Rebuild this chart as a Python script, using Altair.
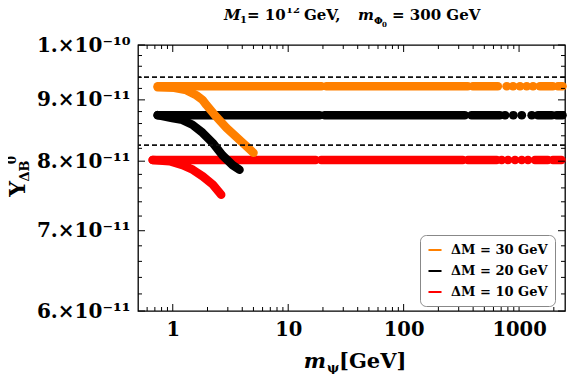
import altair as alt
import pandas as pd

# ---------------- data ----------------
series = ["ΔM = 30 GeV", "ΔM = 20 GeV", "ΔM = 10 GeV"]
colors = ["#FF8000", "#000000", "#FF0000"]
plateau_y = [9.24e-11, 8.74e-11, 8.02e-11]

# plateau pieces (start, end) in m_psi [GeV]
orange_seg_start = [0.74, 21.4, 397, 779, 884, 1016, 1161, 1318, 1512, 2168]
orange_seg_end = [19.4, 360, 655, 785, 890, 1022, 1168, 1326, 1963, 2380]
black_seg_start = [0.74, 20.7, 387, 753, 889, 1052, 1284, 1456, 2113]
black_seg_end = [18.7, 339, 682, 758, 895, 1058, 1292, 1924, 2380]
red_seg_start = [0.67, 19.3, 360, 705, 800, 920, 1052, 1191, 1371, 1963]
red_seg_end = [17.3, 326, 641, 710, 805, 926, 1058, 1198, 1778, 2330]

# descending branches
orange_branch_x = [0.74, 1.03, 1.31, 1.60, 1.81, 1.96, 2.39, 2.92, 4.02, 5.01]
orange_branch_y = [9.22e-11, 9.21e-11, 9.17e-11, 9.08e-11, 9.00e-11, 8.91e-11,
                   8.71e-11, 8.53e-11, 8.29e-11, 8.13e-11]
black_branch_x = [0.74, 0.99, 1.21, 1.48, 1.81, 2.21, 2.70, 3.30, 3.79]
black_branch_y = [8.74e-11, 8.69e-11, 8.66e-11, 8.58e-11, 8.45e-11, 8.29e-11,
                  8.09e-11, 7.94e-11, 7.87e-11]
red_branch_x = [0.67, 0.94, 1.22, 1.49, 1.82, 2.22, 2.63]
red_branch_y = [8.02e-11, 8.00e-11, 7.94e-11, 7.87e-11, 7.77e-11, 7.65e-11, 7.50e-11]

bounds_y = [9.40e-11, 8.25e-11]

x_major = [1, 10, 100, 1000]
x_minor = [0.6, 0.7, 0.8, 0.9, 2, 3, 4, 5, 6, 7, 8, 9, 20, 30, 40, 50, 60, 70, 80, 90,
           200, 300, 400, 500, 600, 700, 800, 900, 2000]
y_major = [6e-11, 7e-11, 8e-11, 9e-11, 1e-10]
y_minor = [6.2e-11, 6.4e-11, 6.6e-11, 6.8e-11, 7.2e-11, 7.4e-11, 7.6e-11, 7.8e-11,
           8.2e-11, 8.4e-11, 8.6e-11, 8.8e-11, 9.2e-11, 9.4e-11, 9.6e-11, 9.8e-11]

# ---------------- build tables ----------------
segs = {
    series[0]: (orange_seg_start, orange_seg_end, plateau_y[0], orange_branch_x, orange_branch_y),
    series[1]: (black_seg_start, black_seg_end, plateau_y[1], black_branch_x, black_branch_y),
    series[2]: (red_seg_start, red_seg_end, plateau_y[2], red_branch_x, red_branch_y),
}


def table_for(name):
    s0, s1, py, bx, by = segs[name]
    rows = []
    for i, (a, b) in enumerate(zip(s0, s1)):
        rows.append({"series": name, "seg": f"p{i}", "x": a, "y": py})
        rows.append({"series": name, "seg": f"p{i}", "x": b, "y": py})
    for xv, yv in zip(bx, by):
        rows.append({"series": name, "seg": "branch", "x": xv, "y": yv})
    return pd.DataFrame(rows)


W, H = 427, 266
FONT = "DejaVu Serif"

xscale = alt.Scale(type="log", domain=[0.5, 2500], nice=False)
yscale = alt.Scale(type="log", domain=[6e-11, 1e-10], nice=False, zero=False)
cscale = alt.Scale(domain=series, range=colors)

x_axis = alt.Axis(values=x_major, format="d", ticks=False, domain=False, grid=False,
                  title=None, labelPadding=9, labelFontSize=19.5, labelFont=FONT,
                  labelFontWeight="bold", labelColor="black")
y_axis = alt.Axis(values=y_major, ticks=False, domain=False, grid=False, title=None,
                  labelPadding=8, labelFontSize=20, labelFont=FONT,
                  labelFontWeight="bold", labelColor="black",
                  labelExpr="datum.value > 9.5e-11 ? '1.×10⁻¹⁰' : round(datum.value*1e11) + '.×10⁻¹¹'")

X = alt.X("x:Q", scale=xscale, axis=x_axis)
Y = alt.Y("y:Q", scale=yscale, axis=y_axis)

legend = alt.Legend(title=None, orient="none", legendX=282, legendY=190,
                    symbolType="stroke", symbolStrokeWidth=2, symbolSize=170,
                    labelFont=FONT, labelFontWeight="bold", labelFontSize=13,
                    labelOffset=8, padding=7, rowPadding=6,
                    fillColor="white", strokeColor="#888888", cornerRadius=6)

layers = []
for name in [series[2], series[1], series[0]]:
    df = table_for(name)
    layers.append(alt.Chart(df).mark_line(strokeWidth=8.5, strokeCap="round",
                                          strokeJoin="round").encode(
        x=X, y=Y,
        color=alt.Color("series:N", scale=cscale, legend=legend),
        detail="seg:N",
    ))

bounds = alt.Chart(pd.DataFrame({"y": bounds_y})).mark_rule(
    color="#111111", strokeWidth=1.8, strokeDash=[5, 3]
).encode(y=Y)
layers.append(bounds)


def xticks(vals, length):
    d = pd.DataFrame({"x": vals})
    bot = alt.Chart(d).mark_rule(color="black", strokeWidth=1).encode(
        x=X, y=alt.value(H), y2=alt.value(H - length))
    top = alt.Chart(d).mark_rule(color="black", strokeWidth=1).encode(
        x=X, y=alt.value(0), y2=alt.value(length))
    return [bot, top]


def yticks(vals, length):
    d = pd.DataFrame({"y": vals})
    left = alt.Chart(d).mark_rule(color="black", strokeWidth=1).encode(
        y=Y, x=alt.value(0), x2=alt.value(length))
    right = alt.Chart(d).mark_rule(color="black", strokeWidth=1).encode(
        y=Y, x=alt.value(W), x2=alt.value(W - length))
    return [left, right]


layers += xticks(x_major, 7) + xticks(x_minor, 4) + yticks(y_major, 7) + yticks(y_minor, 4)

dummy = pd.DataFrame({"d": [0]})


def txt(s, x, y, size, italic=False, angle=0, align="left"):
    kw = dict(text=s, font=FONT, fontWeight="bold", fontSize=size, align=align,
              baseline="alphabetic", color="black")
    if italic:
        kw["fontStyle"] = "italic"
    if angle:
        kw["angle"] = angle
    return alt.Chart(dummy).mark_text(**kw).encode(x=alt.value(x), y=alt.value(y))


OX, OY = 138, 45  # page position of plot origin
texts = [
    # title
    txt("M", 224 - OX, 20 - OY, 15, italic=True),
    txt("1", 240 - OX, 23 - OY, 10),
    txt("= 10", 247 - OX, 20 - OY, 15),
    txt("12", 286 - OX, 13 - OY, 10),
    txt("GeV,", 304 - OX, 20 - OY, 15),
    txt("m", 358 - OX, 20 - OY, 15, italic=True),
    txt("Φ", 374 - OX, 24 - OY, 10),
    txt("0", 382 - OX, 27 - OY, 7),
    txt("= 300 GeV", 392 - OX, 20 - OY, 15),
    # x title
    txt("m", 326 - OX, 368 - OY, 21, italic=True, align="right"),
    txt("ψ", 327 - OX, 372 - OY, 13),
    txt("[GeV]", 339 - OX, 368 - OY, 21),
    # y title (rotated)
    txt("Y", 25 - OX, 189 - OY, 22, angle=270, align="center"),
    txt("ΔB", 29 - OX, 171 - OY, 13, angle=270, align="center"),
    txt("0", 16 - OX, 160 - OY, 12, angle=270, align="center"),
]
layers += texts

chart = alt.layer(*layers).properties(
    width=W, height=H,
    autosize=alt.AutoSizeParams(type="none"),
    padding={"left": 130, "top": 37, "right": 3, "bottom": 63},
).configure_view(stroke="black", strokeWidth=1.3)

chart.save("out.html", embed_options={"renderer": "svg", "actions": False})
